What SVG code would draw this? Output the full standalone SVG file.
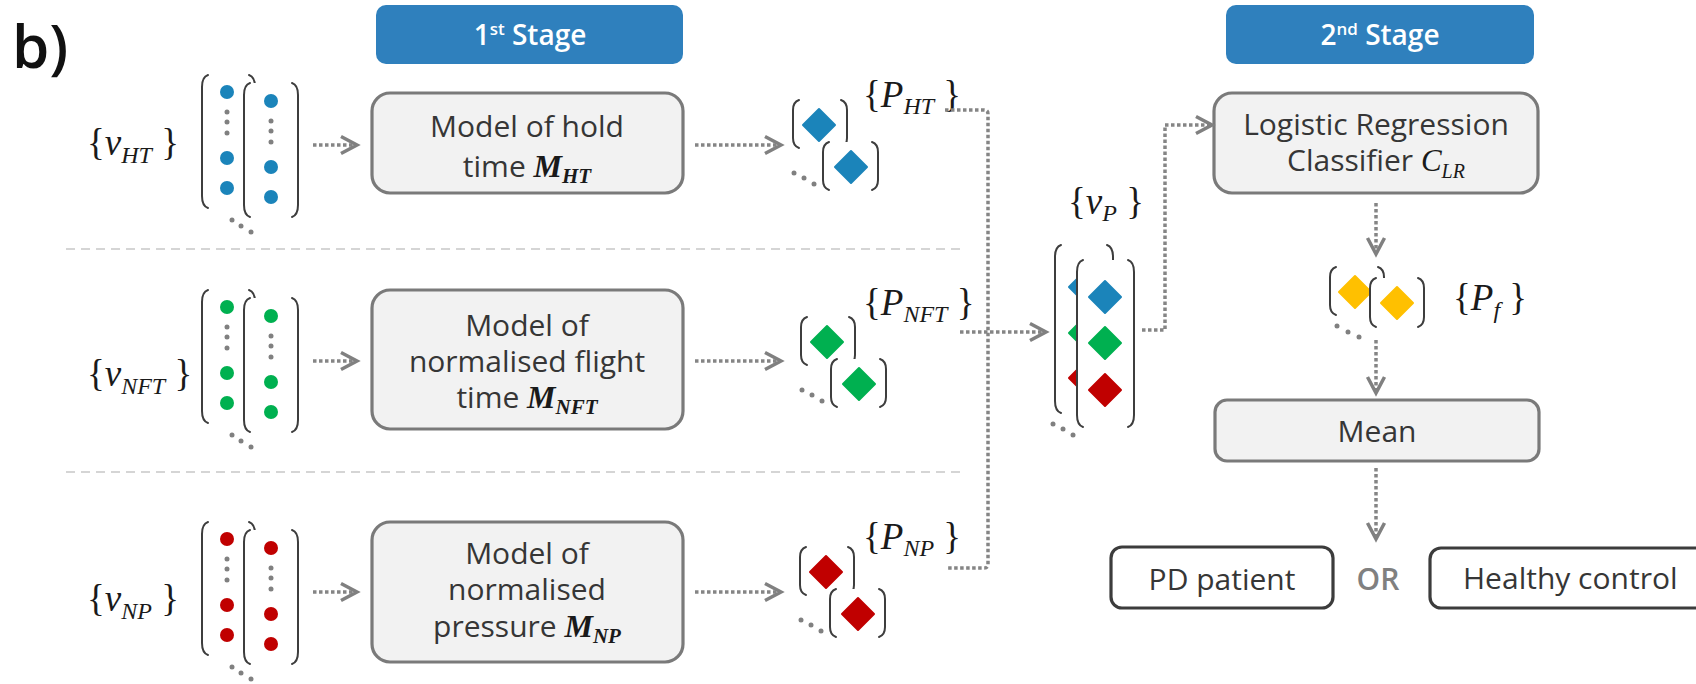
<svg xmlns="http://www.w3.org/2000/svg" xmlns:xlink="http://www.w3.org/1999/xlink" width="1696" height="684" viewBox="0 0 1696 684">
  <style>
    .br { fill: none; stroke: #3d3d3d; stroke-width: 2; stroke-linecap: round; }
    .colbg { fill: #ffffff; }
    .conn { fill: none; stroke: #858585; stroke-width: 3.5; stroke-dasharray: 3.5 2.5; }
    .sep { stroke: #c8c8c8; stroke-width: 1.5; stroke-dasharray: 9 6; }
    .box { fill: #f2f2f2; stroke: #7a7a7a; stroke-width: 3.2; }
    .out { fill: #ffffff; stroke: #3c3c3c; stroke-width: 3.2; }
    .stage { fill: #2f80bd; }
    .lbl { font-family: "Open Sans", "Noto Sans", sans-serif; font-size: 30px; font-weight: 500; fill: #363636; text-anchor: middle; }
    .stg { font-family: "Open Sans", "Noto Sans", sans-serif; font-size: 28px; font-weight: 600; fill: #ffffff; text-anchor: middle; }
    .sup { font-size: 17px; }
    .math { font-family: "Liberation Serif", "DejaVu Serif", serif; font-size: 37px; font-weight: normal; fill: #1a1a1a; }
    .mi { font-family: "Liberation Serif", "DejaVu Serif", serif; font-style: italic; font-weight: normal; }
    .mb { font-family: "Liberation Serif", "DejaVu Serif", serif; font-style: italic; font-weight: bold; font-size: 32px; fill: #1a1a1a; }
    .sub { font-family: "Liberation Serif", "DejaVu Serif", serif; font-size: 24px; font-style: italic; }
    .msub { font-size: 21px; }
    .gdot { fill: #808080; }
    .blue { color: #1b84ba; }
    .green { color: #00b050; }
    .red { color: #c00000; }
    .yellow { color: #ffc000; }
  </style>
  <defs>
    <marker id="chev" markerUnits="userSpaceOnUse" markerWidth="26" markerHeight="26" viewBox="0 0 26 26" refX="21" refY="13" orient="auto">
      <path d="M5,4.5 L21,13 L5,21.5" fill="none" stroke="#808080" stroke-width="3.5" stroke-linejoin="miter"/>
    </marker>
    <path id="dia" d="M0,-16 L16,0 L0,16 L-16,0 Z" fill="currentColor" stroke="currentColor" stroke-width="2" stroke-linejoin="round"/>
    <!-- two stacked feature vectors with an ellipsis below -->
    <g id="vec">
      <rect class="colbg" x="0" y="0" width="53" height="133"/>
      <path class="br" d="M6,0 Q0,2 0,12 V121 Q0,131 6,133"/>
      <path class="br" d="M47,0 Q53,2 53,12 V121 Q53,131 47,133"/>
      <circle cx="25" cy="17" r="7" fill="currentColor"/>
      <circle class="gdot" cx="25" cy="37" r="2.5"/>
      <circle class="gdot" cx="25" cy="47" r="2.5"/>
      <circle class="gdot" cx="25" cy="58" r="2.5"/>
      <circle cx="25" cy="83" r="7" fill="currentColor"/>
      <circle cx="25" cy="113" r="7" fill="currentColor"/>
      <rect class="colbg" x="42" y="8" width="54" height="134"/>
      <path class="br" d="M48,8 Q42,10 42,20 V130 Q42,140 48,142"/>
      <path class="br" d="M90,8 Q96,10 96,20 V130 Q96,140 90,142"/>
      <circle cx="69" cy="26" r="7" fill="currentColor"/>
      <circle class="gdot" cx="69" cy="46" r="2.5"/>
      <circle class="gdot" cx="69" cy="56" r="2.5"/>
      <circle class="gdot" cx="69" cy="67" r="2.5"/>
      <circle cx="69" cy="92" r="7" fill="currentColor"/>
      <circle cx="69" cy="122" r="7" fill="currentColor"/>
      <circle class="gdot" cx="30" cy="145" r="2.5"/>
      <circle class="gdot" cx="39" cy="151" r="2.5"/>
      <circle class="gdot" cx="49" cy="157" r="2.5"/>
    </g>
    <!-- two stacked prediction vectors -->
    <g id="pair">
      <path class="br" d="M6,0 Q0,2 0,10 V38 Q0,46 6,48"/>
      <path class="br" d="M48,0 Q54,2 54,10 V38 Q54,46 48,48"/>
      <use href="#dia" x="26" y="25"/>
      <rect class="colbg" x="30" y="42" width="55" height="48"/>
      <path class="br" d="M36,42 Q30,44 30,52 V80 Q30,88 36,90"/>
      <path class="br" d="M79,42 Q85,44 85,52 V80 Q85,88 79,90"/>
      <use href="#dia" x="58" y="67"/>
      <circle class="gdot" cx="1" cy="73" r="2.5"/>
      <circle class="gdot" cx="11" cy="78" r="2.5"/>
      <circle class="gdot" cx="21" cy="84" r="2.5"/>
    </g>
  </defs>

  <rect width="1696" height="684" fill="#ffffff"/>

  <text x="12" y="68" font-family="Open Sans, Noto Sans, sans-serif" font-size="60" font-weight="600" fill="#111111">b)</text>

  <!-- row separators -->
  <g id="separators">
    <line class="sep" x1="66" y1="249" x2="960" y2="249"/>
    <line class="sep" x1="66" y1="472" x2="960" y2="472"/>
  </g>

  <!-- stage headers -->
  <g id="stage1">
    <rect class="stage" x="376" y="5" width="307" height="59" rx="10"/>
    <text class="stg" x="530" y="45">1<tspan class="sup" dy="-10">st</tspan><tspan dy="10"> Stage</tspan></text>
  </g>
  <g id="stage2">
    <rect class="stage" x="1226" y="5" width="308" height="59" rx="10"/>
    <text class="stg" x="1380" y="45">2<tspan class="sup" dy="-10">nd</tspan><tspan dy="10"> Stage</tspan></text>
  </g>

  <!-- input feature vectors -->
  <g id="input-ht">
    <text class="math" x="87" y="155">{<tspan class="mi">v</tspan><tspan class="sub" dy="8">HT</tspan><tspan dy="-8"> }</tspan></text>
    <use href="#vec" x="202" y="75" class="blue"/>
  </g>
  <g id="input-nft">
    <text class="math" x="87" y="386">{<tspan class="mi">v</tspan><tspan class="sub" dy="8">NFT</tspan><tspan dy="-8"> }</tspan></text>
    <use href="#vec" x="202" y="290" class="green"/>
  </g>
  <g id="input-np">
    <text class="math" x="87" y="611">{<tspan class="mi">v</tspan><tspan class="sub" dy="8">NP</tspan><tspan dy="-8"> }</tspan></text>
    <use href="#vec" x="202" y="522" class="red"/>
  </g>

  <!-- first stage models -->
  <g id="model-ht">
    <rect class="box" x="372" y="93" width="311" height="100" rx="18"/>
    <text class="lbl" x="527" y="137">Model of hold</text>
    <text class="lbl" x="527" y="177">time <tspan class="mb">M</tspan><tspan class="mb msub" dy="6">HT</tspan></text>
  </g>
  <g id="model-nft">
    <rect class="box" x="372" y="290" width="311" height="139" rx="18"/>
    <text class="lbl" x="527" y="336">Model of</text>
    <text class="lbl" x="527" y="372">normalised flight</text>
    <text class="lbl" x="527" y="408">time <tspan class="mb">M</tspan><tspan class="mb msub" dy="6">NFT</tspan></text>
  </g>
  <g id="model-np">
    <rect class="box" x="372" y="522" width="311" height="140" rx="18"/>
    <text class="lbl" x="527" y="564">Model of</text>
    <text class="lbl" x="527" y="600">normalised</text>
    <text class="lbl" x="527" y="637">pressure <tspan class="mb">M</tspan><tspan class="mb msub" dy="6">NP</tspan></text>
  </g>

  <!-- per-model predictions -->
  <g id="pred-ht">
    <use href="#pair" x="793" y="100" class="blue"/>
    <text class="math" x="863" y="107">{<tspan class="mi">P</tspan><tspan class="sub" dy="7">HT</tspan><tspan dy="-7"> }</tspan></text>
  </g>
  <g id="pred-nft">
    <use href="#pair" x="801" y="317" class="green"/>
    <text class="math" x="863" y="315">{<tspan class="mi">P</tspan><tspan class="sub" dy="7">NFT</tspan><tspan dy="-7"> }</tspan></text>
  </g>
  <g id="pred-np">
    <use href="#pair" x="800" y="547" class="red"/>
    <text class="math" x="863" y="549">{<tspan class="mi">P</tspan><tspan class="sub" dy="7">NP</tspan><tspan dy="-7"> }</tspan></text>
  </g>

  <!-- combined prediction vectors -->
  <g id="vec-p">
    <text class="math" x="1068" y="214">{<tspan class="mi">v</tspan><tspan class="sub" dy="7">P</tspan><tspan dy="-7"> }</tspan></text>
    <rect class="colbg" x="1055" y="245" width="58" height="168"/>
    <path class="br" d="M1061,245 Q1055,247 1055,257 V401 Q1055,411 1061,413"/>
    <path class="br" d="M1107,245 Q1113,247 1113,257 V401 Q1113,411 1107,413"/>
    <use href="#dia" x="1085" y="287" class="blue"/>
    <use href="#dia" x="1085" y="333" class="green"/>
    <use href="#dia" x="1085" y="378" class="red"/>
    <rect class="colbg" x="1077" y="260" width="57" height="167"/>
    <path class="br" d="M1083,260 Q1077,262 1077,272 V415 Q1077,425 1083,427"/>
    <path class="br" d="M1128,260 Q1134,262 1134,272 V415 Q1134,425 1128,427"/>
    <use href="#dia" x="1105" y="297" class="blue"/>
    <use href="#dia" x="1105" y="343" class="green"/>
    <use href="#dia" x="1105" y="390" class="red"/>
    <circle class="gdot" cx="1053" cy="424" r="2.5"/>
    <circle class="gdot" cx="1063" cy="429" r="2.5"/>
    <circle class="gdot" cx="1073" cy="435" r="2.5"/>
  </g>

  <!-- second stage -->
  <g id="classifier">
    <rect class="box" x="1214" y="93" width="324" height="100" rx="18"/>
    <text class="lbl" x="1376" y="135">Logistic Regression</text>
    <text class="lbl" x="1376" y="171">Classifier <tspan class="mi" font-size="31" fill="#1a1a1a">C</tspan><tspan class="mi" font-size="20" fill="#1a1a1a" dy="7">LR</tspan></text>
  </g>
  <g id="pred-final">
    <path class="br" d="M1336,267 Q1330,269 1330,277 V305 Q1330,313 1336,315"/>
    <path class="br" d="M1378,267 Q1384,269 1384,277 V305 Q1384,313 1378,315"/>
    <use href="#dia" x="1355" y="292" class="yellow"/>
    <rect class="colbg" x="1370" y="278" width="54" height="49"/>
    <path class="br" d="M1376,278 Q1370,280 1370,288 V317 Q1370,325 1376,327"/>
    <path class="br" d="M1418,278 Q1424,280 1424,288 V317 Q1424,325 1418,327"/>
    <use href="#dia" x="1397" y="303" class="yellow"/>
    <circle class="gdot" cx="1337" cy="326" r="2.5"/>
    <circle class="gdot" cx="1348" cy="332" r="2.5"/>
    <circle class="gdot" cx="1359" cy="337" r="2.5"/>
    <text class="math" x="1453" y="310">{<tspan class="mi">P</tspan><tspan class="sub" dy="8">f</tspan><tspan dy="-8"> }</tspan></text>
  </g>
  <g id="mean">
    <rect class="box" x="1215" y="400" width="324" height="61" rx="12"/>
    <text class="lbl" x="1377" y="442">Mean</text>
  </g>
  <g id="outcome-pd">
    <rect class="out" x="1111" y="547" width="222" height="61" rx="11"/>
    <text class="lbl" x="1222" y="590">PD patient</text>
  </g>
  <text class="lbl" x="1378" y="590" style="fill:#808080; font-weight:600">OR</text>
  <g id="outcome-hc">
    <rect class="out" x="1430" y="548" width="290" height="60" rx="11"/>
    <text class="lbl" x="1463" y="589" style="text-anchor:start">Healthy control</text>
  </g>

  <!-- connectors -->
  <g id="connectors">
    <path class="conn" d="M313,145 H357" marker-end="url(#chev)"/>
    <path class="conn" d="M313,361 H357" marker-end="url(#chev)"/>
    <path class="conn" d="M313,592 H357" marker-end="url(#chev)"/>
    <path class="conn" d="M695,145 H781" marker-end="url(#chev)"/>
    <path class="conn" d="M695,361 H781" marker-end="url(#chev)"/>
    <path class="conn" d="M695,592 H781" marker-end="url(#chev)"/>
    <path class="conn" d="M945,110 H984 Q988,110 988,114 V564 Q988,568 984,568 H947"/>
    <path class="conn" d="M960,332 H1046" marker-end="url(#chev)"/>
    <path class="conn" d="M1142,330 H1165 V125 H1212" marker-end="url(#chev)"/>
    <path class="conn" d="M1376,203 V254" marker-end="url(#chev)"/>
    <path class="conn" d="M1376,340 V393" marker-end="url(#chev)"/>
    <path class="conn" d="M1376,468 V539" marker-end="url(#chev)"/>
  </g>
</svg>
